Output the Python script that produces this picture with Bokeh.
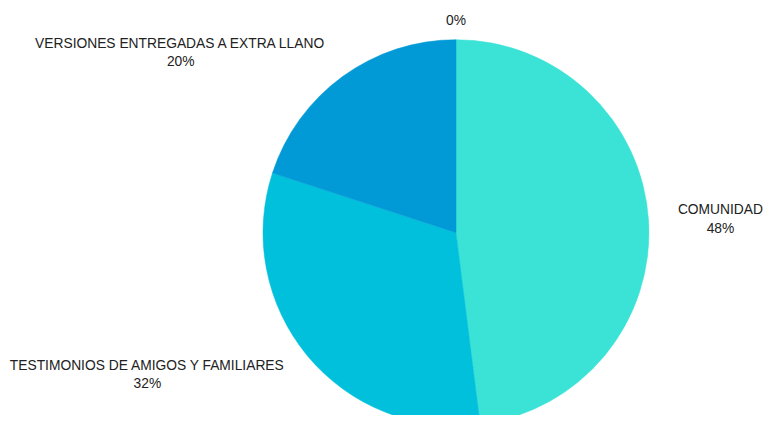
import math
from bokeh.plotting import figure
from bokeh.models import ColumnDataSource, Range1d
from bokeh.core.properties import value
from bokeh.embed import file_html
from bokeh.resources import INLINE

# ---- data ----
categories = ["COMUNIDAD", "TESTIMONIOS DE AMIGOS Y FAMILIARES",
              "VERSIONES ENTREGADAS A EXTRA LLANO", ""]
values = [48, 32, 20, 0]
colors = ["#3AE3D6", "#00C0DC", "#029AD6", "#0A6FB0"]

# ---- layout (reference pixel coordinates, 781x431) ----
W, H = 781, 431
FIG_W, FIG_H = 765, 415
scale = FIG_W / W                      # px per reference unit (uniform)
cx, cy, radius = 465, 237, 197
label_x = [735, 150, 184, 465]
label_y = [223, 382, 53, 20]
line_gap = 9.5

total = float(sum(values))
starts, ends, wc = [], [], []
cum = 0.0
for v, c in zip(values, colors):
    a0 = math.pi / 2 - 2 * math.pi * cum / total
    cum += v
    a1 = math.pi / 2 - 2 * math.pi * cum / total
    if v > 0:
        starts.append(a0)
        ends.append(a1)
        wc.append(c)

wsrc = ColumnDataSource(dict(start=starts, end=ends, color=wc,
                             x=[cx] * len(wc), y=[H - cy] * len(wc)))

pct = ["%d%%" % round(100 * v / total) for v in values]
name_y, pct_y, name_x, pct_x, names, pcts = [], [], [], [], [], []
for n, p_, lx, ly in zip(categories, pct, label_x, label_y):
    if n:
        names.append(n)
        name_x.append(lx)
        name_y.append(H - (ly - line_gap))
        pct_y.append(H - (ly + line_gap))
    else:
        pct_y.append(H - ly)
    pcts.append(p_)
    pct_x.append(lx)

p = figure(width=FIG_W, height=FIG_H,
           x_range=Range1d(0, W),
           y_range=Range1d(H - FIG_H / scale, H),
           output_backend="svg", toolbar_location=None,
           min_border=0)
p.axis.visible = False
p.grid.visible = False
p.outline_line_color = None
p.background_fill_color = "white"

p.wedge(x="x", y="y", radius=radius, start_angle="start", end_angle="end",
        direction="clock", fill_color="color", line_color="color",
        line_width=0.5, source=wsrc)

font = value("Liberation Sans")
fsize = "13.8px"
p.text(x=name_x, y=name_y, text=names, text_font=font,
       text_font_size=fsize, text_color="#222222",
       text_align="center", text_baseline="middle")
p.text(x=pct_x, y=pct_y, text=pcts, text_font=font,
       text_font_size=fsize, text_color="#222222",
       text_align="center", text_baseline="middle")

open("out.html", "w").write(file_html(p, INLINE))
